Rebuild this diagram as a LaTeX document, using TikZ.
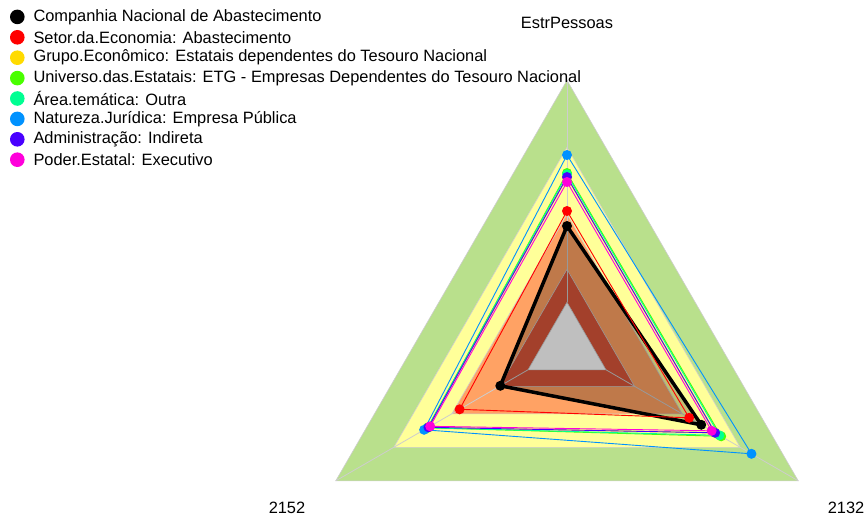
\documentclass[tikz,border=0pt]{standalone}
\usepackage{fontspec}
\setmainfont{Liberation Sans}
\definecolor{bandG}{RGB}{185,224,140}
\definecolor{bandY}{RGB}{255,255,153}
\definecolor{bandO}{RGB}{255,162,100}
\definecolor{bandR}{RGB}{218,86,58}
\definecolor{axisgray}{RGB}{205,205,205}
\definecolor{cRed}{HTML}{FF0000}
\definecolor{cGold}{HTML}{FFDB00}
\definecolor{cGreen}{HTML}{49FF00}
\definecolor{cMint}{HTML}{00FF92}
\definecolor{cBlue}{HTML}{0092FF}
\definecolor{cPurple}{HTML}{4900FF}
\definecolor{cMag}{HTML}{FF00DB}
\newcommand\radarseries[6]{%
  \coordinate (#1T) at (270:#3);
  \coordinate (#1R) at (30:#4);
  \coordinate (#1L) at (150:#5);
  \draw[#2,#6] (#1T) -- (#1R) -- (#1L) -- cycle;
  \foreach \p in {T,R,L} \fill[#2] (#1\p) circle (5);
}
\begin{document}
\begin{tikzpicture}[x=1pt,y=-1pt,
  lab/.style={font=\fontsize{16.4}{18}\selectfont, inner sep=0pt},
  band/.style={draw=axisgray, line width=0.6pt},
  axisline/.style={draw=axisgray, line width=0.8pt},
  thin/.style={line width=0.9pt},
  thick/.style={line width=3.5pt, line join=round}]
\useasboundingbox (0,0) rectangle (867,519);
\begin{scope}[shift={(567,347.3)}]
  \foreach \r/\c in {267/bandG,200/bandY,133/bandO,78/bandR,45/white}
    \fill[\c, band] (270:\r) -- (30:\r) -- (150:\r) -- cycle;
  \foreach \a in {270,30,150}
    \draw[axisline] (\a:45) -- (\a:267);
  % black series fill
  \fill[black, fill opacity=0.25] (270:121.3) -- (30:155) -- (150:77) -- cycle;
  \radarseries{k}{black}{121.3}{155}{77}{thick}
  \radarseries{r}{cRed}{136.3}{141}{124}{thin}
  \radarseries{y}{cGold}{170}{171}{160}{thin}
  \radarseries{g}{cGreen}{174.3}{178}{161}{thin}
  \radarseries{m}{cMint}{173}{176}{161}{thin}
  \radarseries{b}{cBlue}{192.3}{213}{165}{thin}
  \radarseries{p}{cPurple}{170.3}{171}{160}{thin}
  \radarseries{q}{cMag}{165.3}{167}{158}{thin}
\end{scope}
\node[lab] (axT) at (567,23) {EstrPessoas};
\node[lab] (axL) at (287,508) {2152};
\node[lab] (axR) at (846,508) {2132};
% legend
\foreach \i/\c/\t in {0/black/{Companhia Nacional de Abastecimento},
  1/cRed/{Setor.da.Economia: Abastecimento},
  2/cGold/{Grupo.Econômico: Estatais dependentes do Tesouro Nacional},
  3/cGreen/{Universo.das.Estatais: ETG - Empresas Dependentes do Tesouro Nacional},
  4/cMint/{Área.temática: Outra},
  5/cBlue/{Natureza.Jurídica: Empresa Pública},
  6/cPurple/{Administração: Indireta},
  7/cMag/{Poder.Estatal: Executivo}} {
  \fill[\c] (17.3,16.9+20.4*\i) circle (7.3);
  \node[lab, anchor=west] (leg\i) at (33.3,16.9+20.4*\i) {\t};
}
\end{tikzpicture}
\end{document}
